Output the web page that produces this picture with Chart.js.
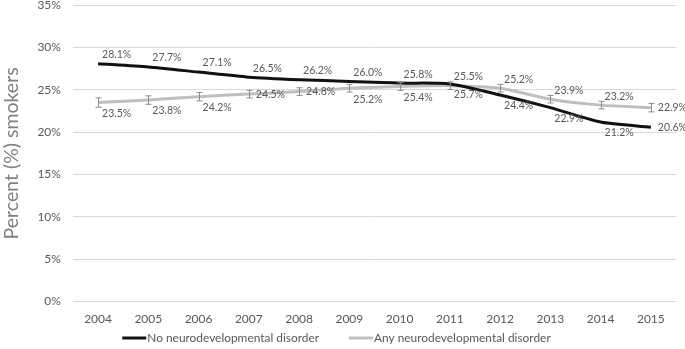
<!DOCTYPE html>
<html>
<head>
<meta charset="utf-8">
<script src="https://cdn.jsdelivr.net/npm/chart.js@4"></script>
<style>
  html, body { margin: 0; padding: 0; background: #fff; overflow: hidden; }
  #wrap { position: absolute; left: 0; top: -14px; width: 685px; height: 365px; }
</style>
</head>
<body>
<div id="wrap"><canvas id="smokeChart"></canvas></div>
<script>
// smokers by year

const years = ['2004', '2005', '2006', '2007', '2008', '2009', '2010', '2011', '2012', '2013', '2014', '2015'];
const noDisorder = [28.1, 27.7, 27.1, 26.5, 26.2, 26.0, 25.8, 25.7, 24.4, 22.9, 21.2, 20.6];
const anyDisorder = [23.5, 23.8, 24.2, 24.5, 24.8, 25.2, 25.4, 25.5, 25.2, 23.9, 23.2, 22.9];
const anyDisorderErr = [0.55, 0.5, 0.5, 0.45, 0.45, 0.45, 0.45, 0.45, 0.45, 0.45, 0.45, 0.5];
const yTicks = [0, 5, 10, 15, 20, 25, 30, 35];

// where each value label sits: a = above, b = below, r = right
const noDisorderPos = ['a', 'a', 'a', 'a', 'a', 'a', 'a', 'b', 'b', 'b', 'b', 'r'];
const anyDisorderPos = ['b', 'b', 'b', 'r', 'r', 'b', 'b', 'a', 'a', 'a', 'a', 'r'];

const FONT = 'Lato, "Open Sans", sans-serif';
const TEXT = '#595959';

const errorBars = {
  id: 'errorBars',
  afterDatasetsDraw(chart) {
    const ctx = chart.ctx;
    const meta = chart.getDatasetMeta(1);
    const y = chart.scales.y;
    ctx.save();
    ctx.strokeStyle = '#8c8c8c';
    ctx.lineWidth = 1;
    meta.data.forEach((pt, i) => {
      const v = anyDisorder[i];
      const top = y.getPixelForValue(v + anyDisorderErr[i]);
      const bot = y.getPixelForValue(v - anyDisorderErr[i]);
      const x = Math.round(pt.x) + 0.5;
      ctx.beginPath();
      ctx.moveTo(x, top); ctx.lineTo(x, bot);
      ctx.moveTo(x - 3, top); ctx.lineTo(x + 3, top);
      ctx.moveTo(x - 3, bot); ctx.lineTo(x + 3, bot);
      ctx.stroke();
    });
    ctx.restore();
  }
};

const valueLabels = {
  id: 'valueLabels',
  afterDatasetsDraw(chart) {
    const ctx = chart.ctx;
    ctx.save();
    ctx.font = '10.5px ' + FONT;
    ctx.fillStyle = TEXT;
    ctx.textAlign = 'left';
    ctx.textBaseline = 'middle';
    [[0, noDisorder, noDisorderPos], [1, anyDisorder, anyDisorderPos]].forEach(([idx, vals, pos]) => {
      chart.getDatasetMeta(idx).data.forEach((pt, i) => {
        const txt = vals[i].toFixed(1) + '%';
        let dx = 4, dy = 0;
        if (pos[i] === 'a') dy = -9;
        else if (pos[i] === 'b') dy = 11;
        else dx = 7;
        ctx.fillText(txt, pt.x + dx, pt.y + dy);
      });
    });
    ctx.restore();
  }
};

// legend with line swatches, drawn in the bottom padding
const lineLegend = {
  id: 'lineLegend',
  afterDraw(chart) {
    const ctx = chart.ctx;
    const sets = chart.data.datasets;
    const gap = 30, sw = 24;
    ctx.save();
    ctx.font = '11.9px ' + FONT;
    ctx.textBaseline = 'middle';
    ctx.textAlign = 'left';
    const widths = sets.map(ds => sw + 1 + ctx.measureText(ds.label).width);
    const total = widths.reduce((a, b) => a + b, 0) + gap * (sets.length - 1);
    let x = (chart.width - total) / 2 - 6;
    const y = chart.height - 13;
    sets.forEach((ds, i) => {
      ctx.strokeStyle = ds.borderColor;
      ctx.lineWidth = 3;
      ctx.beginPath();
      ctx.moveTo(x, y); ctx.lineTo(x + sw, y);
      ctx.stroke();
      ctx.fillStyle = TEXT;
      ctx.fillText(ds.label, x + sw + 1, y);
      x += widths[i] + gap;
    });
    ctx.restore();
  }
};

const ctx = document.getElementById('smokeChart').getContext('2d');

new Chart(ctx, {
  type: 'line',
  data: {
    labels: years,
    datasets: [
      {
        label: 'No neurodevelopmental disorder',
        data: noDisorder,
        borderColor: '#111111',
        backgroundColor: '#111111',
        borderWidth: 3,
        pointRadius: 0,
        tension: 0.25,
        fill: false
      },
      {
        label: 'Any neurodevelopmental disorder',
        data: anyDisorder,
        borderColor: '#bfbfbf',
        backgroundColor: '#bfbfbf',
        borderWidth: 3,
        pointRadius: 0,
        tension: 0.25,
        fill: false
      }
    ]
  },
  plugins: [errorBars, valueLabels, lineLegend],
  options: {
    responsive: true,
    maintainAspectRatio: false,
    animation: false,
    layout: { padding: { left: 0, right: 9, top: 0, bottom: 15 } },
    plugins: {
      legend: { display: false },
      tooltip: { enabled: false }
    },
    scales: {
      x: {
        offset: true,
        grid: { display: false, drawTicks: false },
        border: { display: false },
        ticks: {
          color: TEXT,
          font: { family: FONT, size: 12 },
          padding: 10,
          maxRotation: 0
        }
      },
      y: {
        min: 0,
        max: 35,
        afterBuildTicks: axis => { axis.ticks = yTicks.map(v => ({ value: v })); },
        grid: { color: '#d9d9d9', drawTicks: false },
        border: { display: false },
        ticks: {
          color: TEXT,
          font: { family: FONT, size: 12 },
          padding: 12,
          callback: v => v + '%'
        },
        title: {
          display: true,
          text: 'Percent (%) smokers',
          color: '#808080',
          font: { family: FONT, size: 19.5 },
          padding: { top: 0, bottom: 2 }
        }
      }
    }
  }
});
</script>
</body>
</html>
